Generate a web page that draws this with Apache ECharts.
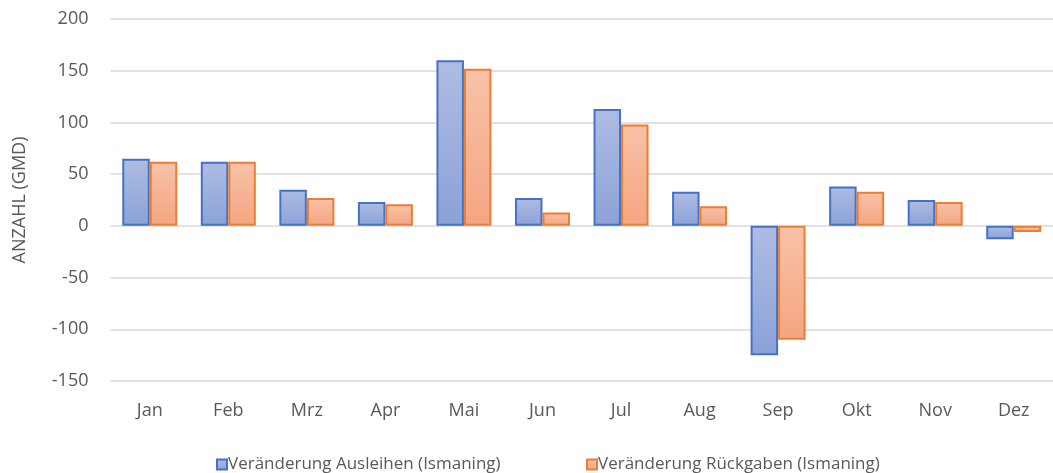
<!DOCTYPE html>
<html>
<head>
<meta charset="utf-8">
<script src="https://cdn.jsdelivr.net/npm/echarts@6/dist/echarts.min.js"></script>
<style>
html,body{margin:0;padding:0;background:#fff;}
#chart{width:1053px;height:473px;}
</style>
</head>
<body>
<div id="chart"></div>
<script>
const categories = ['Jan','Feb','Mrz','Apr','Mai','Jun','Jul','Aug','Sep','Okt','Nov','Dez'];
const ausleihen = [65, 62, 35, 23, 160, 27, 113, 33, -125, 38, 25, -13];
const rueckgaben = [62, 62, 27, 21, 152, 13, 98, 19, -110, 33, 23, -6];
const seriesNames = ['Veränderung Ausleihen (Ismaning)', 'Veränderung Rückgaben (Ismaning)'];
const yAxisName = 'ANZAHL (GMD)';

const FONT = '"Open Sans", "Liberation Sans", sans-serif';
const chart = echarts.init(document.getElementById('chart'));

function grad(top, bottom) {
  return new echarts.graphic.LinearGradient(0, 0, 0, 1, [
    {offset: 0, color: top}, {offset: 1, color: bottom}
  ]);
}
const blueFill = grad('#AEBCE2', '#8BA2D8');
const orangeFill = grad('#F8C2A8', '#F4A580');

const legendText = {color: '#595959', fontSize: 17, fontFamily: FONT, padding: [0,0,0,-4]};

chart.setOption({
  animation: false,
  backgroundColor: '#fff',
  grid: {left: 110.5, right: -9, top: 19, bottom: 92, containLabel: false},
  legend: [
    {
      data: [seriesNames[0]], left: 211, top: 451,
      itemWidth: 10, itemHeight: 10, icon: 'rect',
      textStyle: legendText
    },
    {
      data: [seriesNames[1]], left: 581, top: 451,
      itemWidth: 10, itemHeight: 10, icon: 'rect',
      textStyle: legendText
    }
  ],
  xAxis: {
    type: 'category',
    data: categories,
    axisLine: {show: false, onZero: false},
    axisTick: {show: false},
    axisLabel: {color: '#595959', fontSize: 18, fontFamily: FONT, margin: 21}
  },
  yAxis: {
    type: 'value',
    min: -150, max: 200, interval: 50,
    name: yAxisName,
    nameLocation: 'middle',
    nameRotate: 90,
    nameGap: 82,
    nameTextStyle: {color: '#595959', fontSize: 18, fontFamily: FONT},
    axisLine: {show: false},
    axisTick: {show: false},
    axisLabel: {color: '#595959', fontSize: 18, fontFamily: FONT, margin: 22},
    splitLine: {lineStyle: {color: '#D9D9D9', width: 1.5}}
  },
  series: [
    {
      name: seriesNames[0], type: 'bar', data: ausleihen,
      barWidth: 27.5, barGap: '0%',
      itemStyle: {color: blueFill, borderColor: '#4472C4', borderWidth: 2}
    },
    {
      name: seriesNames[1], type: 'bar', data: rueckgaben,
      barWidth: 27.5, barGap: '0%',
      itemStyle: {color: orangeFill, borderColor: '#ED7D31', borderWidth: 2}
    }
  ]
});
</script>
</body>
</html>
